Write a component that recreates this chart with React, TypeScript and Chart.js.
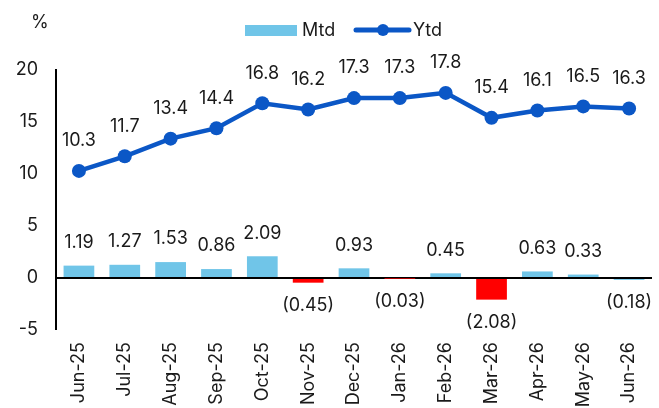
import React, { useEffect, useRef } from "react";
import { Chart, registerables } from "chart.js";

Chart.register(...registerables);

const months = [
  "Jun-25", "Jul-25", "Aug-25", "Sep-25", "Oct-25", "Nov-25", "Dec-25",
  "Jan-26", "Feb-26", "Mar-26", "Apr-26", "May-26", "Jun-26",
];
const mtd = [1.19, 1.27, 1.53, 0.86, 2.09, -0.45, 0.93, -0.03, 0.45, -2.08, 0.63, 0.33, -0.18];
const ytd = [10.3, 11.7, 13.4, 14.4, 16.8, 16.2, 17.3, 17.3, 17.8, 15.4, 16.1, 16.5, 16.3];
const mtdColors = [
  "#70C5E8", "#70C5E8", "#70C5E8", "#70C5E8", "#70C5E8", "#FF0000", "#70C5E8",
  "#FF0000", "#70C5E8", "#FF0000", "#70C5E8", "#70C5E8", "#70C5E8",
];
const yTicks = [-5, 0, 5, 10, 15, 20];

const FONT = "Inter, 'Noto Sans', sans-serif";
const FONT_SIZE = 18;
const TEXT = "#1a1a1a";
const LINE_BLUE = "#0B57C6";
const BAR_BLUE = "#70C5E8";

const fmtMtd = (v: number) => (v < 0 ? `(${Math.abs(v).toFixed(2)})` : v.toFixed(2));

const labelsPlugin = {
  id: "valueLabels",
  afterDatasetsDraw(chart: any) {
    const ctx = chart.ctx;
    ctx.save();
    ctx.font = `${FONT_SIZE}px ${FONT}`;
    ctx.fillStyle = TEXT;
    ctx.textAlign = "center";
    ctx.textBaseline = "middle";
    chart.getDatasetMeta(0).data.forEach((bar: any, i: number) => {
      const v = mtd[i];
      const y = v < 0 ? bar.y + 23 : bar.y - 23;
      ctx.fillText(fmtMtd(v), bar.x, y);
    });
    chart.getDatasetMeta(1).data.forEach((pt: any, i: number) => {
      ctx.fillText(ytd[i].toFixed(1), pt.x, pt.y - 30);
    });
    ctx.restore();
  },
};

const legendPlugin = {
  id: "topLegend",
  afterDraw(chart: any) {
    const ctx = chart.ctx;
    ctx.save();
    ctx.font = `${FONT_SIZE}px ${FONT}`;
    ctx.fillStyle = TEXT;
    ctx.textBaseline = "middle";
    ctx.textAlign = "left";
    ctx.fillText("%", 31, 23);
    // Mtd swatch
    ctx.fillStyle = BAR_BLUE;
    ctx.fillRect(245, 25, 52, 11);
    ctx.fillStyle = TEXT;
    ctx.fillText("Mtd", 302, 31);
    // Ytd swatch
    ctx.strokeStyle = LINE_BLUE;
    ctx.lineWidth = 5;
    ctx.lineCap = "round";
    ctx.beginPath();
    ctx.moveTo(356, 30);
    ctx.lineTo(409, 30);
    ctx.stroke();
    ctx.fillStyle = LINE_BLUE;
    ctx.beginPath();
    ctx.arc(383, 30, 6, 0, Math.PI * 2);
    ctx.fill();
    ctx.fillStyle = TEXT;
    ctx.fillText("Ytd", 413, 31);
    ctx.restore();
  },
};

export default function App() {
  const ref = useRef<HTMLCanvasElement | null>(null);

  useEffect(() => {
    if (!ref.current) return;
    const chart = new Chart(ref.current, {
      type: "bar",
      data: {
        labels: months,
        datasets: [
          {
            type: "bar",
            label: "Mtd",
            data: mtd,
            backgroundColor: mtdColors,
            barPercentage: 0.67,
            categoryPercentage: 1,
            order: 1,
          },
          {
            type: "line",
            label: "Ytd",
            data: ytd,
            borderColor: LINE_BLUE,
            backgroundColor: LINE_BLUE,
            borderWidth: 4.5,
            pointRadius: 7,
            pointBackgroundColor: LINE_BLUE,
            pointBorderWidth: 0,
            tension: 0,
            order: 0,
          },
        ],
      },
      options: {
        responsive: false,
        animation: false,
        layout: { padding: { top: 70, right: 4, left: 0, bottom: 0 } },
        plugins: {
          legend: { display: false },
          tooltip: { enabled: false },
        },
        scales: {
          x: {
            offset: true,
            grid: { display: false, drawTicks: false },
            border: { display: false },
            ticks: {
              color: TEXT,
              font: { family: FONT, size: FONT_SIZE },
              minRotation: 90,
              maxRotation: 90,
              padding: 12,
              autoSkip: false,
            },
            afterFit: (s: any) => {
              s.height = 78;
              s.paddingLeft = 0;
              s.paddingRight = 0;
            },
          },
          y: {
            min: -5,
            max: 20,
            afterBuildTicks: (s: any) => {
              s.ticks = yTicks.map((v) => ({ value: v }));
            },
            grid: {
              drawTicks: false,
              color: (c: any) => (c.tick && c.tick.value === 0 ? "#000" : "rgba(0,0,0,0)"),
              lineWidth: (c: any) => (c.tick && c.tick.value === 0 ? 2 : 0),
            },
            border: { display: true, color: "#000", width: 2 },
            ticks: {
              color: TEXT,
              font: { family: FONT, size: FONT_SIZE },
              padding: 18,
            },
            afterFit: (s: any) => {
              s.width = 56;
            },
          },
        },
      },
      plugins: [labelsPlugin, legendPlugin],
    });
    return () => chart.destroy();
  }, []);

  return (
    <div style={{ position: "fixed", left: 0, top: 0, width: 659, height: 408, background: "#fff" }}>
      <canvas ref={ref} width={659} height={408} />
    </div>
  );
}
